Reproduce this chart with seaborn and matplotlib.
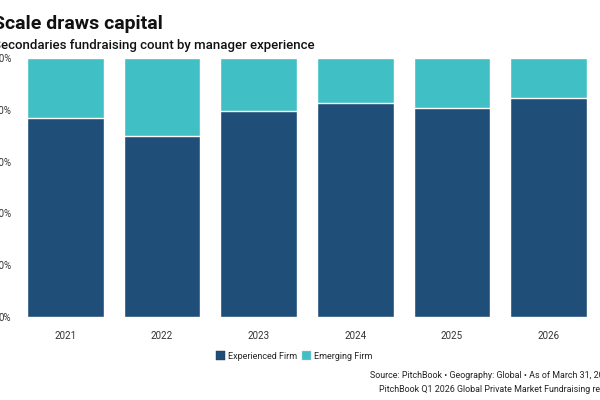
import numpy as np
import pandas as pd
import seaborn as sns
import matplotlib
matplotlib.use("Agg")
import matplotlib.pyplot as plt
from matplotlib.patches import Patch

years = ["2021", "2022", "2023", "2024", "2025", "2026"]
experienced = [76.9, 70.0, 79.6, 82.7, 80.8, 84.6]

dark = "#1f4e79"
teal = "#40c0c4"

sns.set_style("white")
plt.rcParams['font.family'] = ['Roboto', 'DejaVu Sans']

fig = plt.figure(figsize=(6, 4), dpi=100)
ax = fig.add_axes([17 / 600, 1 - 317 / 400, 580 / 600, 259 / 400])

df = pd.DataFrame({"year": years, "total": [100] * 6, "exp": experienced})
sns.barplot(data=df, x="year", y="total", color=teal, width=0.79, ax=ax,
            edgecolor="white", linewidth=1, saturation=1)
sns.barplot(data=df, x="year", y="exp", color=dark, width=0.79, ax=ax,
            edgecolor="white", linewidth=1, saturation=1)

ax.set_ylim(0, 100)
ax.set_xlim(-0.5, 5.5)
ax.set_yticks([0, 20, 40, 60, 80, 100])
ax.set_yticklabels(["0%", "20%", "40%", "60%", "80%", "100%"], fontsize=7, color="#333333")
ax.tick_params(axis="x", labelsize=7, colors="#333333", length=0, pad=10)
ax.tick_params(axis="y", length=0, pad=4)
ax.set_xlabel("")
ax.set_ylabel("")
for s in ax.spines.values():
    s.set_visible(False)

fig.text(-0.012, 0.94, "Scale draws capital", fontsize=14, fontweight="bold", color="#111111", va="center")
fig.text(-0.012, 0.885, "Secondaries fundraising count by manager experience", fontsize=9.5,
         fontweight="medium", color="#111111", va="center")

handles = [Patch(facecolor=dark, edgecolor="#333333", linewidth=0.3, label="Experienced Firm"),
           Patch(facecolor=teal, edgecolor="#cccccc", linewidth=0.3, label="Emerging Firm")]
fig.legend(handles=handles, loc="center", bbox_to_anchor=(0.49, 0.11), ncol=2, frameon=False,
           fontsize=6.5, handlelength=1.0, handleheight=1.0, handletextpad=0.3, columnspacing=0.6)

fig.text(1.022, 0.06, "Source: PitchBook \u2022 Geography: Global \u2022 As of March 31, 2026",
         fontsize=6.4, ha="right", va="center", color="#222222")
fig.text(1.027, 0.025, "PitchBook Q1 2026 Global Private Market Fundraising report",
         fontsize=6.4, ha="right", va="center", color="#222222")

fig.savefig("out.png", dpi=100)
